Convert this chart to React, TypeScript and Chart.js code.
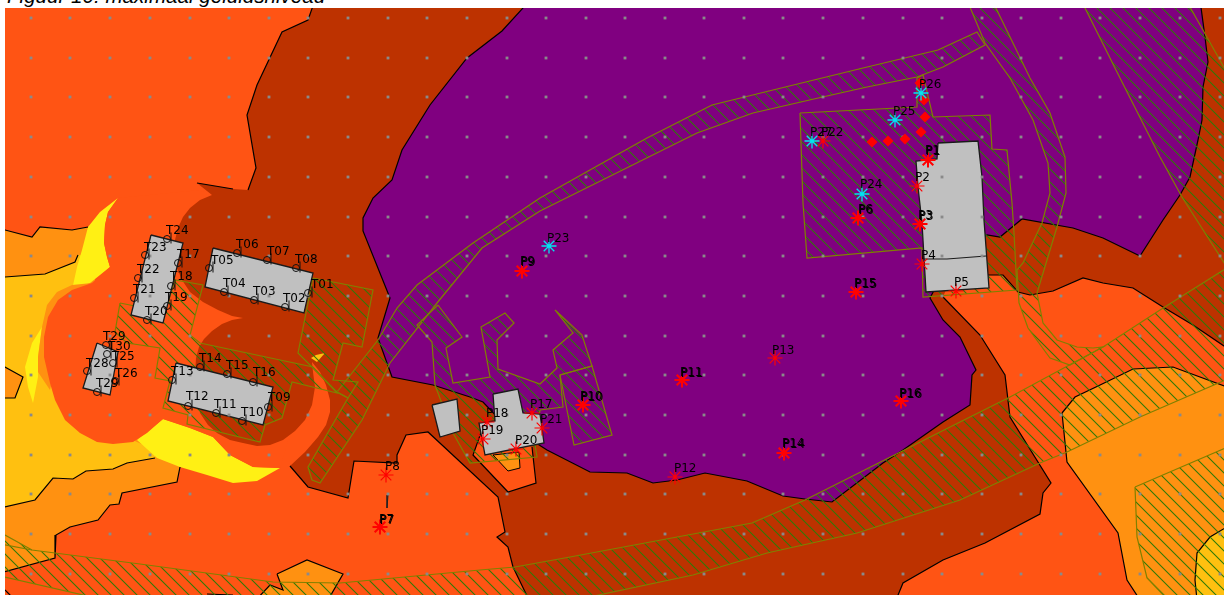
import React, { useEffect, useRef } from "react";
import { Chart, registerables } from "chart.js";

Chart.register(...registerables);

type Pt = number[];

// ---- zones (map coordinates) ----
const zoneBase: Pt[] = [[0,0],[1230,0],[1230,600],[0,600]];
const zoneDarkOrangeLeft: Pt[] = [[0,229],[5,230],[32,237],[40,227],[72,230],[88,227],[95,227],[95,300],[120,400],[180,440],[180,467],[177,482],[122,493],[119,504],[110,505],[98,520],[70,527],[56,535],[55,558],[0,573]];
const zoneAmberLeft: Pt[] = [[0,277],[5,277],[45,274],[75,262],[78,255],[88,255],[88,290],[110,330],[110,430],[155,450],[155,458],[127,463],[113,469],[86,471],[73,479],[53,478],[35,500],[0,508]];
const zoneOrangeSmallLeft: Pt[] = [[0,366],[5,367],[23,377],[15,398],[0,398]];
const zoneYellowTop: Pt[] = [[118,198],[100,212],[88,227],[82,250],[77,267],[72,290],[90,283],[110,267],[107,257],[104,243],[105,225],[108,212]];
const zoneYellowLeft: Pt[] = [[42,327],[32,343],[25,367],[28,387],[33,403],[38,377],[38,357]];
const zoneYellowBottom: Pt[] = [[163,419],[137,440],[157,458],[180,467],[207,475],[233,483],[257,481],[280,468],[253,467],[230,455],[213,437],[190,428]];
const zoneRing: Pt[] = [[92,283],[72,285],[57,292],[47,305],[42,327],[38,357],[38,372],[50,390],[60,350],[80,300]];
const zoneBlob: Pt[] = [[118,198],[108,212],[105,225],[104,243],[107,257],[110,267],[92,283],[72,290],[58,300],[48,317],[44,337],[44,357],[50,383],[55,400],[65,420],[80,433],[97,442],[113,444],[133,442],[147,433],[163,419],[190,428],[213,437],[230,455],[253,467],[280,468],[300,400],[300,250],[200,190]];
const zoneBrown: Pt[] = [[315,0],[308,20],[282,32],[257,85],[247,115],[256,168],[248,190],[233,189],[197,183],[212,195],[200,200],[190,208],[183,217],[178,228],[175,240],[174,255],[177,268],[182,280],[190,292],[203,302],[218,310],[232,316],[243,318],[232,320],[222,324],[212,331],[204,339],[199,347],[196,358],[195,375],[200,413],[208,425],[217,433],[230,440],[243,443],[257,446],[270,445],[283,440],[295,431],[305,420],[312,405],[315,387],[313,372],[312,362],[320,372],[326,385],[330,400],[330,412],[326,425],[318,437],[305,452],[290,466],[308,487],[348,498],[354,461],[397,463],[397,455],[406,435],[428,432],[498,497],[505,532],[497,537],[508,547],[513,567],[529,600],[896,600],[903,583],[943,560],[985,543],[1040,514],[1043,493],[1051,483],[1010,417],[1005,375],[980,335],[943,297],[950,280],[988,275],[1003,275],[1018,292],[1030,295],[1053,291],[1083,278],[1103,283],[1133,288],[1163,307],[1193,325],[1230,350],[1230,0]];
const zoneOrangeByHouse: Pt[] = [[483,427],[473,455],[508,492],[536,483],[532,447]];
const zoneDarkOrangeByHouse: Pt[] = [[493,455],[508,471],[520,468],[519,452]];
const zoneTinySpot: Pt[] = [[311,358],[317,362],[325,353],[316,355]];
const zoneDarkOrangeBottom: Pt[] = [[277,574],[307,560],[343,574],[328,600],[256,600],[270,585],[283,590]];
const zoneDarkOrangeRight: Pt[] = [[1062,413],[1075,397],[1098,386],[1133,369],[1173,367],[1230,388],[1230,600],[1140,600],[1127,580],[1118,533],[1067,462]];
const zoneAmberRight: Pt[] = [[1230,525],[1210,537],[1197,553],[1195,580],[1197,600],[1230,600]];
const zonePurple: Pt[] = [[525,0],[523,8],[502,31],[467,58],[430,105],[402,150],[392,180],[373,198],[363,218],[363,231],[390,298],[378,338],[392,377],[433,385],[470,397],[483,402],[500,420],[547,450],[590,472],[627,473],[653,483],[677,480],[705,473],[747,481],[783,496],[805,499],[832,502],[883,463],[903,450],[943,422],[970,405],[972,375],[976,370],[960,337],[943,320],[930,298],[950,260],[987,235],[1000,237],[1022,219],[1073,228],[1103,238],[1140,256],[1163,220],[1180,195],[1190,177],[1198,140],[1202,120],[1203,87],[1208,62],[1205,37],[1200,0]];

// ---- hatched areas ----
const hatchRoadMain: Pt[] = [[540,211],[482,248],[437,303],[390,363],[362,420],[320,483],[312,480],[308,467],[348,398],[337,392],[378,340],[397,308],[417,285],[473,243],[540,198],[647,138],[712,105],[773,90],[863,68],[938,50],[977,32],[985,45],[943,67],[917,77],[867,87],[827,96],[753,113],[697,133]];
const hatchRoadCurve: Pt[] = [[967,0],[985,43],[1010,78],[1033,120],[1048,163],[1050,193],[1042,223],[1023,263],[1017,270],[1019,303],[1028,328],[1050,358],[1070,365],[1103,347],[1093,348],[1077,347],[1057,340],[1043,323],[1037,293],[1047,260],[1057,227],[1066,193],[1065,157],[1050,113],[1030,78],[992,0]];
const hatchLongBand: Pt[] = [[0,532],[5,535],[32,550],[55,553],[140,564],[273,582],[340,583],[480,570],[515,567],[570,557],[752,523],[805,500],[960,422],[1010,397],[1073,363],[1103,347],[1160,310],[1230,266],[1230,378],[1140,417],[1067,452],[1040,463],[960,500],[857,533],[767,553],[693,575],[575,600],[105,600],[0,576]];
const hatchBottomRight: Pt[] = [[1135,487],[1230,446],[1230,600],[1168,600],[1147,578],[1137,537]];
const hatchTopRight: Pt[] = [[1081,0],[1120,78],[1160,157],[1182,197],[1230,272],[1230,78],[1186,0]];
const hatchField: Pt[] = [[800,113],[917,107],[917,78],[923,75],[933,117],[990,115],[992,149],[1007,150],[1012,203],[1014,233],[1017,290],[923,297],[922,248],[807,258],[803,203]];
const hatchTerrain: Pt[] = [[120,303],[115,332],[127,343],[160,348],[155,378],[170,381],[163,408],[188,415],[187,424],[260,442],[265,425],[282,418],[292,382],[337,393],[313,367],[200,343],[190,335],[203,285],[175,280],[165,312]];
const hatchTerrainEast: Pt[] = [[313,278],[373,290],[362,347],[343,343],[333,380],[358,382],[348,398],[337,392],[298,353]];
const hatchFingers: Pt[] = [[438,305],[462,337],[446,348],[453,383],[490,377],[481,327],[505,313],[514,323],[497,340],[498,369],[540,384],[557,368],[553,350],[573,333],[555,310],[582,335],[592,366],[560,375],[563,407],[540,410],[535,445],[537,457],[470,463],[453,433],[435,385],[432,342],[417,325]];
const hatchP10: Pt[] = [[560,375],[574,445],[612,435],[592,366]];
const hatchEdgeWest: Pt[] = [[0,544],[32,550]];

// ---- buildings ----
const buildingEast: Pt[] = [[938,143],[978,141],[982,177],[984,220],[989,288],[926,292],[922,223],[918,187],[916,161],[937,159]];
const buildingEastDivider: Pt[] = [[922,259],[947,259],[986,256]];
const buildingNorth: Pt[] = [[213,248],[313,273],[304,313],[205,287]];
const buildingColumn: Pt[] = [[151,235],[183,243],[163,323],[131,315]];
const buildingSouth: Pt[] = [[176,363],[273,387],[263,425],[168,401]];
const buildingSmallWest: Pt[] = [[97,343],[118,352],[110,395],[83,388]];
const buildingShed: Pt[] = [[432,405],[457,399],[460,431],[440,437]];
const buildingMiddle: Pt[] = [[493,394],[518,389],[523,413],[540,414],[544,443],[485,455],[479,423],[495,421]];

// ---- black contour lines ----
const contourWestBrown: Pt[] = [[315,0],[308,20],[282,32],[257,85],[247,115],[256,168],[248,190]];
const contourWestStub: Pt[] = [[233,189],[197,183]];
const contourSouthBrown: Pt[] = [[290,466],[308,487],[348,498],[354,461],[397,463],[397,455],[406,435],[428,432],[498,497],[505,532],[497,537],[508,547],[513,567],[529,600]];
const contourSouthEast: Pt[] = [[896,600],[903,583],[943,560],[985,543],[1040,514],[1043,493],[1051,483],[1010,417],[1005,375],[980,335],[943,297]];
const contourEast: Pt[] = [[988,275],[1003,275],[1018,292],[1030,295],[1053,291],[1083,278],[1103,283],[1133,288],[1163,307],[1193,325],[1230,350]];
const contourLeft1: Pt[] = [[0,229],[5,230],[32,237],[40,227],[72,230],[88,227]];
const contourLeft2: Pt[] = [[0,277],[5,277],[45,274],[75,262],[78,255]];
const contourLeft3: Pt[] = [[0,508],[35,500],[53,478],[73,479],[86,471],[113,469],[127,463],[155,458]];
const contourLeft4: Pt[] = [[180,467],[177,482],[122,493],[119,504],[110,505],[98,520],[70,527],[56,535],[55,558],[0,573]];
const contourHouse: Pt[] = [[483,427],[473,455],[508,492],[536,483],[532,447]];
const contourTick: Pt[] = [[388,495],[387,508]];
const contourBottomStub: Pt[] = [[207,594],[233,595]];
const contourBottomLeft: Pt[] = [[5,590],[12,597]];

// ---- measuring points: label, x, y, labelX, labelY ----
const redPointsBold: [string, number, number, number, number][] = [
  ["P1",928,160,925,151],["P3",920,224,918,216],["P6",858,218,858,210],["P7",380,527,379,520],["P9",522,271,520,262],
  ["P10",583,405,580,397],["P11",682,380,680,373],["P14",784,453,782,444],["P15",856,292,854,284],["P16",901,401,899,394],
];
const redPointsThin: [string, number, number, number, number][] = [
  ["P2",917,186,915,178],["P4",922,264,921,256],["P5",956,291,954,283],["P8",386,475,385,467],["P12",675,477,674,469],
  ["P13",775,358,772,351],["P17",532,413,530,405],["P18",487,422,486,414],["P19",483,439,481,431],["P20",516,449,515,441],
  ["P21",542,428,540,420],["P22",823,141,821,133],
];
const cyanPoints: [string, number, number, number, number][] = [
  ["P27",812,141,810,133],["P23",549,246,547,239],["P24",862,194,860,185],["P25",895,120,893,112],["P26",921,93,919,85],
];
const receivers: [string, number, number, number, number][] = [
  ["T01",308,293,311,285],["T02",285,307,283,299],["T03",254,300,253,292],["T04",224,292,223,284],["T05",209,268,211,261],
  ["T06",237,253,236,245],["T07",267,260,267,252],["T08",296,268,295,260],["T09",268,407,268,398],["T10",242,421,241,413],
  ["T11",216,413,214,405],["T12",188,406,186,397],["T13",172,380,171,372],["T14",200,367,199,359],["T15",227,374,226,366],
  ["T16",253,382,253,373],["T17",178,263,177,255],["T18",171,286,170,277],["T19",167,306,165,298],["T20",147,320,145,312],
  ["T21",134,298,133,290],["T22",138,278,137,270],["T23",145,255,144,248],["T24",167,239,166,231],["T25",113,363,112,357],
  ["T26",115,381,115,374],["T29",97,392,96,384],["T28",87,371,86,364],["T29",106,345,103,337],["T30",107,354,108,347],
];
const sourceDiamonds: Pt[] = [[872,142],[888,141],[905,139],[921,132],[925,117],[924,100],[920,83]];

// ---- grid of calculation dots ----
const gridXs = [31,70,110,150,190,229,269,308,348,388,427,467,507,546,586,625,665,704,744,783,823,863,903,942,982,1021,1061,1100,1140,1180,1220];
const gridYs = [18,58,97,137,177,217,256,296,336,375,415,455,494,534,574];

const TITLE = "Figuur 10: maximaal geluidsniveau";

const ORANGE = "#FF5414";
const BROWN = "#BD3200";
const PURPLE = "#800080";
const DARK_ORANGE = "#FF9111";
const AMBER = "#FFC010";
const YELLOW = "#FFF014";
const GRAY = "#C0C0C0";
const OLIVE = "#808000";
const CONTOUR = "#000000";
const RED = "#FF0000";
const CYAN = "#00E5F0";

function toXY(p: Pt[]) {
  return p.map(([x, y]) => ({ x, y }));
}

function makeHatch(): CanvasPattern {
  const size = 13;
  const c = document.createElement("canvas");
  c.width = size;
  c.height = size;
  const g = c.getContext("2d")!;
  g.strokeStyle = "#2F7A08";
  g.lineWidth = 1.05;
  for (const d of [-size, 0, size]) {
    g.beginPath();
    g.moveTo(d - 1, -1);
    g.lineTo(d + size + 1, size + 1);
    g.stroke();
  }
  return g.createPattern(c, "repeat")!;
}

export default function App() {
  const ref = useRef<HTMLCanvasElement | null>(null);

  useEffect(() => {
    const canvas = ref.current!;
    const hatch = makeHatch();

    const area = (data: Pt[], color: any, border = "transparent", width = 0) => ({
      data: toXY(data),
      showLine: true,
      fill: "shape",
      backgroundColor: color,
      borderColor: border,
      borderWidth: width,
      pointRadius: 0,
      tension: 0,
    });
    const line = (data: Pt[], color: string, width = 1.2) => ({
      data: toXY(data),
      showLine: true,
      fill: false,
      borderColor: color,
      borderWidth: width,
      pointRadius: 0,
      tension: 0,
    });
    const closed = (p: Pt[]) => [...p, p[0]];
    const hatched = (p: Pt[]) => area(closed(p), hatch, OLIVE, 1.2);
    const building = (p: Pt[]) => area(closed(p), GRAY, "#1a1a1a", 1.3);
    const markers = (data: Pt[], style: string, radius: number, color: string, width: number, extra: any = {}) => ({
      data: toXY(data),
      showLine: false,
      pointStyle: style,
      pointRadius: radius,
      pointBorderColor: color,
      pointBackgroundColor: color,
      pointBorderWidth: width,
      ...extra,
    });
    const rows = (r: [string, number, number, number, number][]) => r.map((v) => [v[1], v[2]]);

    const gridDots: Pt[] = [];
    for (const y of gridYs) for (const x of gridXs) gridDots.push([x, y]);

    const layers: any[] = [
      area(closed(zoneBase), ORANGE),
      area(closed(zoneDarkOrangeLeft), DARK_ORANGE),
      area(closed(zoneAmberLeft), AMBER),
      area(closed(zoneOrangeSmallLeft), DARK_ORANGE, CONTOUR, 1.2),
      area(closed(zoneYellowTop), YELLOW),
      area(closed(zoneYellowLeft), YELLOW),
      area(closed(zoneYellowBottom), YELLOW),
      area(closed(zoneRing), DARK_ORANGE),
      area(closed(zoneBlob), ORANGE),
      area(closed(zoneBrown), BROWN),
      area(closed(zoneOrangeByHouse), ORANGE),
      area(closed(zoneDarkOrangeByHouse), DARK_ORANGE, CONTOUR, 1),
      area(closed(zoneTinySpot), "#FFC010"),
      area(closed(zoneDarkOrangeBottom), DARK_ORANGE, CONTOUR, 1.2),
      area(closed(zoneDarkOrangeRight), DARK_ORANGE, CONTOUR, 1.2),
      area(closed(zoneAmberRight), AMBER, CONTOUR, 1.2),
      area(closed(zonePurple), PURPLE, CONTOUR, 1.2),
      line(contourWestBrown, CONTOUR),
      line(contourWestStub, CONTOUR),
      line(contourSouthBrown, CONTOUR),
      line(contourSouthEast, CONTOUR),
      line(contourEast, CONTOUR),
      line(contourLeft1, CONTOUR),
      line(contourLeft2, CONTOUR),
      line(contourLeft3, CONTOUR),
      line(contourLeft4, CONTOUR),
      line(contourHouse, CONTOUR),
      line(contourTick, "#222222", 1),
      line(contourBottomStub, CONTOUR),
      line(contourBottomLeft, CONTOUR),
      hatched(hatchLongBand),
      hatched(hatchBottomRight),
      hatched(hatchTopRight),
      hatched(hatchRoadMain),
      hatched(hatchRoadCurve),
      hatched(hatchField),
      hatched(hatchTerrain),
      hatched(hatchTerrainEast),
      hatched(hatchFingers),
      hatched(hatchP10),
      line(hatchEdgeWest, OLIVE),
      building(buildingEast),
      line(buildingEastDivider, "#1a1a1a", 1.2),
      building(buildingNorth),
      building(buildingColumn),
      building(buildingSouth),
      building(buildingSmallWest),
      building(buildingShed),
      building(buildingMiddle),
      markers(gridDots, "rect", 2, "#8a8a8a", 0),
      markers(sourceDiamonds, "rectRot", 5.5, RED, 0),
      markers(rows(receivers), "circle", 3.5, "#111111", 1, { pointBackgroundColor: "transparent" }),
      markers(receivers.map((r) => [r[1] + 4, r[2] - 1]), "line", 5.5, "#111111", 1, { pointRotation: 90 }),
      markers(rows(redPointsThin), "star", 7.5, RED, 1.2),
      markers(rows(redPointsBold), "star", 7.5, RED, 2),
      markers(rows(cyanPoints), "star", 7.5, CYAN, 1.3),
    ];
    layers.forEach((d, i) => {
      d.order = layers.length - i;
    });

    const labelPlugin = {
      id: "mapLabels",
      afterDatasetsDraw(chart: any) {
        const { ctx, scales } = chart;
        ctx.save();
        ctx.fillStyle = "#000000";
        ctx.font = '12px "DejaVu Sans", sans-serif';
        ctx.textAlign = "left";
        ctx.textBaseline = "middle";
        const put = (r: [string, number, number, number, number][], bold: boolean) => {
          for (const v of r) {
            const x = scales.x.getPixelForValue(v[3]);
            const y = scales.y.getPixelForValue(v[4]);
            ctx.fillText(v[0], x, y);
            if (bold) ctx.fillText(v[0], x + 0.8, y + 0.4);
          }
        };
        put(receivers, false);
        put(redPointsThin, false);
        put(cyanPoints, false);
        put(redPointsBold, true);
        ctx.restore();
      },
    };

    const chart = new Chart(canvas, {
      type: "scatter",
      data: { datasets: layers },
      options: {
        animation: false,
        responsive: false,
        events: [],
        layout: { padding: 0, autoPadding: false },
        plugins: { legend: { display: false }, tooltip: { enabled: false }, title: { display: false } },
        scales: {
          x: { type: "linear", min: 5, max: 1224, display: false },
          y: { type: "linear", min: 8, max: 595, reverse: true, display: false },
        },
      },
      plugins: [labelPlugin],
    } as any);
    return () => chart.destroy();
  }, []);

  return (
    <div style={{ position: "absolute", left: 0, top: 0, width: 1224, height: 595, overflow: "hidden", background: "#fff" }}>
      <div
        style={{
          position: "absolute",
          left: 7,
          top: -13.6,
          fontFamily: '"Liberation Sans", Arial, sans-serif',
          fontStyle: "italic",
          fontSize: 20.6,
          lineHeight: "20px",
          whiteSpace: "nowrap",
          color: "#000",
        }}
      >
        {TITLE}
      </div>
      <canvas ref={ref} width={1219} height={587} style={{ position: "absolute", left: 5, top: 8, width: 1219, height: 587 }} />
    </div>
  );
}
